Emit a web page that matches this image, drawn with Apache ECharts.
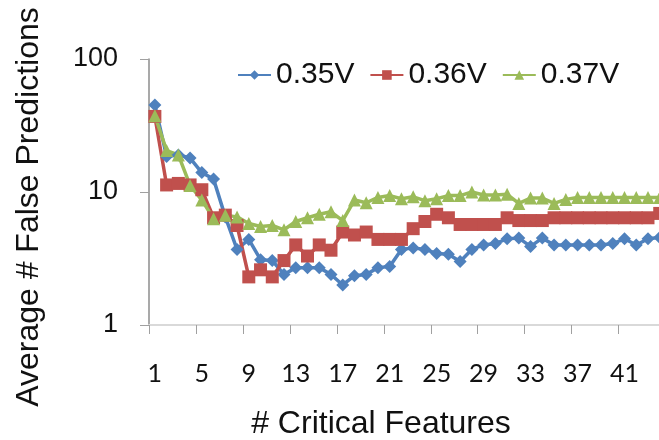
<!DOCTYPE html>
<html>
<head>
<meta charset="utf-8">
<script src="https://cdn.jsdelivr.net/npm/echarts@6/dist/echarts.min.js"></script>
<style>
  html, body { margin: 0; padding: 0; background: #fff; }
  #chart { width: 659px; height: 440px; }
</style>
</head>
<body>
<div id="chart"></div>
<script>
// Number of critical features on the x axis
const categories = ['1','2','3','4','5','6','7','8','9','10','11','12','13','14','15','16','17','18','19','20','21','22',
  '23','24','25','26','27','28','29','30','31','32','33','34','35','36','37','38','39','40','41','42','43','44'];

// Average number of false predictions per supply voltage
const v035 = [45, 18.5, 19, 18, 14, 12.5, 6.5, 3.7, 4.4, 3.1, 3.05, 2.4, 2.7, 2.7, 2.7, 2.4, 2.0, 2.35, 2.4, 2.7, 2.75, 3.7,
  3.8, 3.7, 3.45, 3.4, 3.0, 3.7, 4.0, 4.1, 4.45, 4.5, 3.9, 4.5, 4.0, 4.0, 4.0, 4.0, 4.0, 4.1, 4.45, 4.0, 4.45, 4.55];
const v036 = [37, 11.3, 11.6, 11.3, 10.4, 6.4, 6.7, 5.6, 2.3, 2.6, 2.3, 3.05, 4.0, 3.3, 4.0, 3.65, 5.0, 4.75, 5.0, 4.4, 4.4, 4.4,
  5.3, 6.0, 6.8, 6.4, 5.7, 5.7, 5.7, 5.7, 6.4, 6.1, 6.1, 6.1, 6.4, 6.4, 6.4, 6.4, 6.4, 6.4, 6.4, 6.4, 6.4, 6.9];
const v037 = [37.5, 20.5, 19, 11.2, 8.7, 6.3, 6.7, 6.5, 5.8, 5.5, 5.6, 5.2, 6.0, 6.4, 6.8, 7.1, 6.1, 8.7, 8.3, 9.1, 9.4, 8.9,
  9.2, 8.6, 8.9, 9.4, 9.4, 10.0, 9.5, 9.5, 9.6, 8.2, 9.0, 9.0, 8.2, 8.8, 9.1, 9.1, 9.1, 9.1, 9.1, 9.1, 9.1, 9.1];

const seriesNames = ['0.35V', '0.36V', '0.37V'];
const xTitle = '# Critical Features';
const yTitle = 'Average # False Predictions';

const SANS = '"Liberation Sans", Arial, sans-serif';
const chart = echarts.init(document.getElementById('chart'), null, { renderer: 'canvas' });

function lineSeries(name, data, color, symbol, size) {
  return {
    name, type: 'line', data,
    symbol, symbolSize: size, showAllSymbol: true,
    lineStyle: { color, width: 3.5 },
    itemStyle: { color, borderWidth: 0 },
    emphasis: { disabled: true },
    clip: true
  };
}

chart.setOption({
  animation: false,
  backgroundColor: '#ffffff',
  grid: { left: 149, top: 59, width: 516.6, height: 266, outerBoundsMode: 'none', containLabel: false },
  legend: {
    data: seriesNames,
    left: 237, top: 60, padding: 0,
    itemWidth: 33, itemHeight: 12, itemGap: 15,
    textStyle: { fontFamily: SANS, fontSize: 30, color: '#111' }
  },
  xAxis: {
    type: 'category',
    data: categories,
    boundaryGap: true,
    axisLine: { onZero: false, lineStyle: { color: '#d9d9d9', width: 2 } },
    axisTick: { show: true, interval: 3, length: 9, lineStyle: { color: '#a0a0a0', width: 1 } },
    axisLabel: { interval: 3, margin: 36, fontFamily: 'Lato, "Open Sans", sans-serif', fontSize: 25, color: '#111' },
    splitLine: { show: false }
  },
  yAxis: {
    type: 'log',
    logBase: 10,
    min: 1, max: 100,
    axisLine: { show: true, lineStyle: { color: '#8c8c8c', width: 1.5 } },
    axisTick: { show: true, length: 9, lineStyle: { color: '#a0a0a0', width: 1 } },
    axisLabel: { margin: 31, fontFamily: SANS, fontSize: 27, color: '#111' },
    splitLine: { show: false },
    minorTick: { show: false }
  },
  graphic: [
    { type: 'text', x: 381, y: 424, style: { text: xTitle, font: '32px ' + SANS, fill: '#111', align: 'center', verticalAlign: 'middle' } },
    { type: 'text', x: 29, y: 207, rotation: Math.PI / 2, style: { text: yTitle, font: '32px ' + SANS, fill: '#111', align: 'center', verticalAlign: 'middle' } }
  ],
  series: [
    lineSeries(seriesNames[0], v035, '#4f81bd', 'diamond', 13),
    lineSeries(seriesNames[1], v036, '#c0504d', 'rect', 13),
    lineSeries(seriesNames[2], v037, '#9bbb59', 'triangle', 13)
  ]
});
</script>
</body>
</html>
